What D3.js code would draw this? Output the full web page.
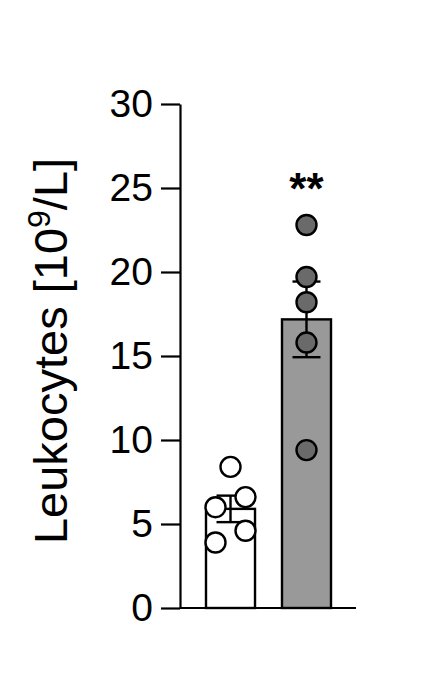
<!DOCTYPE html>
<html>
<head>
<meta charset="utf-8">
<script src="https://cdn.jsdelivr.net/npm/d3@7"></script>
<style>
  body { margin: 0; background: #fff; }
  text { font-family: "Liberation Sans", Arial, sans-serif; }
</style>
</head>
<body>
<div id="chart"></div>
<script>
(function()
{
    var width = 437;
    var height = 692;

    // data
    var groups = ["Control", "Treated"];
    var controlValues = [8.4, 6.0, 6.6, 4.6, 3.9];
    var treatedValues = [22.8, 19.7, 18.2, 15.8, 9.4];
    var yTicks = [0, 5, 10, 15, 20, 25, 30];
    var significance = ["", "**"];

    // x offsets of the dots inside each bar (jitter as drawn)
    var controlJitter = [0, -1, 1, 1, -1];
    var treatedJitter = [0, 0, 0, 0, 0];

    var series = [
        {name: groups[0], values: controlValues, jitter: controlJitter, bar: "#ffffff", dot: "#ffffff", sig: significance[0]},
        {name: groups[1], values: treatedValues, jitter: treatedJitter, bar: "#999999", dot: "#6a6a6a", sig: significance[1]}
    ];
    series.forEach(function(s) {
        s.mean = d3.mean(s.values);
        s.sem = d3.deviation(s.values) / Math.sqrt(s.values.length);
    });

    var svg = d3.select("#chart")
        .append("svg")
        .attr("width", width)
        .attr("height", height);

    var y = d3.scaleLinear()
        .domain([0, 30])
        .range([608, 104]);

    var x = d3.scaleBand()
        .domain(groups)
        .range([206, 331])
        .paddingInner(0.355)
        .paddingOuter(0);

    //y axis with long outward ticks
    var axis = d3.axisLeft(y).tickValues(yTicks).tickSize(19).tickPadding(8).tickSizeOuter(0);
    var gy = svg.append("g").attr("transform", "translate(180,0)").call(axis);
    gy.select(".domain").attr("stroke", "#000").attr("stroke-width", 2.2);
    gy.selectAll(".tick line").attr("stroke", "#000").attr("stroke-width", 2.2);
    gy.selectAll(".tick text")
        .attr("font-size", 39)
        .attr("fill", "#000")
        .style("font-family", "'Liberation Sans', Arial, sans-serif");

    // baseline
    svg.append("line")
        .attr("x1", 180).attr("x2", 356)
        .attr("y1", y(0)).attr("y2", y(0))
        .attr("stroke", "#000").attr("stroke-width", 2.2);

    // y label
    var label = svg.append("text")
        .attr("transform", "translate(67," + ((y(0) + y(30)) / 2 - 5) + ") rotate(-90)")
        .attr("text-anchor", "middle")
        .attr("font-size", 47)
        .attr("fill", "#000");
    label.append("tspan").text("Leukocytes [10");
    label.append("tspan").attr("dy", -17).attr("font-size", 32).text("9");
    label.append("tspan").attr("dy", 17).text("/L]");

    // bars
    svg.selectAll(".bar").data(series)
        .enter().append("rect")
        .attr("class", "bar")
        .attr("x", function(d){return x(d.name)})
        .attr("width", x.bandwidth())
        .attr("y", function(d){return y(d.mean)})
        .attr("height", function(d){return y(0) - y(d.mean)})
        .attr("fill", function(d){return d.bar})
        .attr("stroke", "#000")
        .attr("stroke-width", 2.4);

    // error bars (mean +/- SEM)
    var err = svg.selectAll(".err").data(series).enter().append("g").attr("class", "err")
        .attr("transform", function(d){return "translate(" + (x(d.name) + x.bandwidth() / 2) + ",0)"});
    err.append("line")
        .attr("y1", function(d){return y(d.mean - d.sem)})
        .attr("y2", function(d){return y(d.mean + d.sem)})
        .attr("stroke", "#000").attr("stroke-width", 2.4);
    err.selectAll(".cap").data(function(d){return [d.mean - d.sem, d.mean + d.sem]})
        .enter().append("line")
        .attr("x1", -14).attr("x2", 14)
        .attr("y1", function(v){return y(v)})
        .attr("y2", function(v){return y(v)})
        .attr("stroke", "#000").attr("stroke-width", 2.4);

    // individual points
    series.forEach(function(s) {
        var cx = x(s.name) + x.bandwidth() / 2;
        svg.selectAll(".dot-" + s.name).data(s.values)
            .enter().append("circle")
            .attr("cx", function(d, i){return cx + s.jitter[i] * 15})
            .attr("cy", function(d){return y(d)})
            .attr("r", 10)
            .attr("fill", s.dot)
            .attr("stroke", "#000")
            .attr("stroke-width", 2.4);
    });

    // significance stars
    svg.selectAll(".sig").data(series)
        .enter().append("text")
        .attr("class", "sig")
        .attr("x", function(d){return x(d.name) + x.bandwidth() / 2})
        .attr("y", 204)
        .attr("text-anchor", "middle")
        .attr("font-size", 44)
        .attr("font-weight", "bold")
        .text(function(d){return d.sig});

})();
</script>
</body>
</html>
